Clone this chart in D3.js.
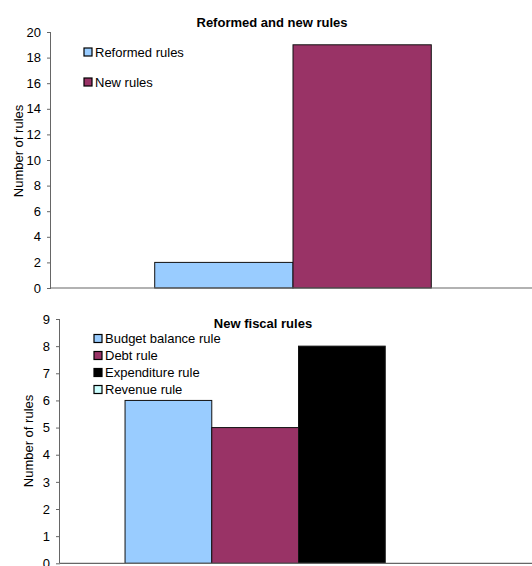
<!DOCTYPE html>
<html>
<head>
<meta charset="utf-8">
<script src="https://cdn.jsdelivr.net/npm/d3@7/dist/d3.min.js"></script>
<style>
  html, body { margin: 0; padding: 0; background: #fff; }
  svg { display: block; font-family: "Liberation Sans", Arial, sans-serif; }
</style>
</head>
<body>
<svg id="chart" width="532" height="566"></svg>
<script>
// Panel 1: reformed vs new rules
const topSeries = ["Reformed rules", "New rules"];
const topValues = [2, 19];
const topColors = ["#99CCFF", "#993366"];
const topTicks = [0, 2, 4, 6, 8, 10, 12, 14, 16, 18, 20];

// Panel 2: new fiscal rules by type
const bottomSeries = ["Budget balance rule", "Debt rule", "Expenditure rule", "Revenue rule"];
const bottomValues = [6, 5, 8, 0];
const bottomColors = ["#99CCFF", "#993366", "#000000", "#CCFFFF"];
const bottomTicks = [0, 1, 2, 3, 4, 5, 6, 7, 8, 9];

const svg = d3.select("#chart");
const AXIS = "#666666";

function panel(cfg) {
  const g = svg.append("g");
  const x = d3.scaleBand().domain(cfg.series).range(cfg.xRange)
    .paddingInner(0).paddingOuter(0.75);
  const y = d3.scaleLinear().domain(cfg.yDomain).range(cfg.yRange);

  // bars
  g.selectAll("rect.bar").data(cfg.series).enter().append("rect")
    .attr("class", "bar")
    .attr("x", d => x(d))
    .attr("width", x.bandwidth())
    .attr("y", (d, i) => y(cfg.values[i]))
    .attr("height", (d, i) => y(0) - y(cfg.values[i]))
    .attr("fill", (d, i) => cfg.colors[i])
    .attr("stroke", "#111")
    .attr("stroke-width", 1);

  // y axis
  const yAxis = d3.axisLeft(y).tickValues(cfg.ticks).tickSize(4).tickPadding(6).tickFormat(d3.format("d"));
  const ya = g.append("g").attr("transform", `translate(${cfg.xRange[0]},0)`).call(yAxis);
  ya.select(".domain").attr("stroke", AXIS).attr("d", `M-0.5,${cfg.yRange[0]}V${cfg.yRange[1]}`);
  ya.selectAll(".tick line").attr("stroke", AXIS);
  ya.selectAll(".tick text").attr("font-size", 13).attr("fill", "#000")
    .attr("font-family", "Liberation Sans, Arial, sans-serif");

  // x axis baseline
  g.append("line")
    .attr("x1", cfg.xRange[0]).attr("x2", cfg.xRange[1])
    .attr("y1", y(0)).attr("y2", y(0))
    .attr("stroke", AXIS).attr("stroke-width", 1.2);

  // title
  g.append("text").attr("x", cfg.titleX).attr("y", cfg.titleY)
    .attr("text-anchor", "middle").attr("font-size", 13).attr("font-weight", "bold")
    .text(cfg.title);

  // y label
  g.append("text")
    .attr("transform", `translate(${cfg.labelX},${cfg.labelY}) rotate(-90)`)
    .attr("text-anchor", "middle").attr("font-size", 13)
    .text("Number of rules");

  // legend
  const lg = g.selectAll("g.leg").data(cfg.series).enter().append("g")
    .attr("transform", (d, i) => `translate(${cfg.legX},${cfg.legY + i * cfg.legStep})`);
  lg.append("rect").attr("x", 0).attr("y", -4).attr("width", 8).attr("height", 8)
    .attr("fill", (d, i) => cfg.colors[i]).attr("stroke", "#000").attr("stroke-width", 1.2);
  lg.append("text").attr("x", 11).attr("y", 4.5).attr("font-size", 13).text(d => d);
}

panel({
  series: topSeries, values: topValues, colors: topColors, ticks: topTicks,
  xRange: [51, 535], yDomain: [0, 20], yRange: [288, 32],
  title: "Reformed and new rules", titleX: 272, titleY: 27,
  labelX: 23, labelY: 151,
  legX: 84, legY: 52, legStep: 30
});

panel({
  series: bottomSeries, values: bottomValues, colors: bottomColors, ticks: bottomTicks,
  xRange: [60, 537], yDomain: [0, 9], yRange: [563.3, 319],
  title: "New fiscal rules", titleX: 263, titleY: 328,
  labelX: 33, labelY: 441,
  legX: 94, legY: 338.5, legStep: 17
});
</script>
</body>
</html>
